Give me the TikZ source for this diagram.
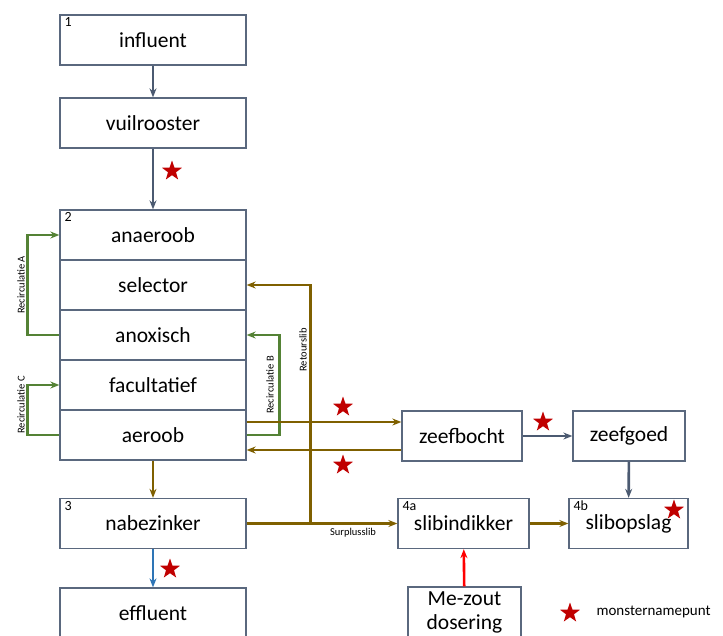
\documentclass[tikz,border=0pt]{standalone}
\usepackage{fontspec}
\setmainfont{Carlito}
\usetikzlibrary{shapes.geometric,arrows.meta}
\definecolor{lijn}{HTML}{5A687E}
\definecolor{leisteen}{HTML}{4B5A71}
\definecolor{oker}{HTML}{7F6000}
\definecolor{gras}{HTML}{548235}
\definecolor{zee}{HTML}{2E75B6}
\definecolor{rood}{HTML}{C00000}

\begin{document}
\begin{tikzpicture}[x=1pt,y=-1pt,
    box/.style={draw=lijn, line width=1.3pt, minimum height=50pt, inner sep=0pt, align=center, font=\fontsize{21.5}{24}\selectfont},
    brede/.style={box, minimum width=186pt},
    nr/.style={label={[anchor=north west,inner xsep=5pt,inner ysep=3pt,font=\fontsize{14}{15}\selectfont]north west:#1}},
    pijl/.style={line width=2.6pt, -{Stealth[length=9pt,width=7pt]}},
    grijs/.style={pijl, leisteen},
    bruin/.style={pijl, oker},
    groen/.style={pijl, gras},
    klein/.style={font=\fontsize{10.5}{12}\selectfont},
    ster/.style={star, star points=5, star point ratio=2.5, fill=rood, minimum size=21pt, inner sep=0pt}]
    \useasboundingbox (0,0) rectangle (723,635);

    % linker kolom
    \node[brede, nr=1] (influent) at (153,40) {influent};
    \node[brede] (vuil) at (153,123) {vuilrooster};
    \node[brede, nr=2] (anaer) at (153,235) {anaeroob};
    \node[brede] (selector) at (153,285) {selector};
    \node[brede] (anox) at (153,335) {anoxisch};
    \node[brede] (facult) at (153,385) {facultatief};
    \node[brede] (aeroob) at (153,435) {aeroob};
    \node[brede, nr=3] (nabez) at (153,523.5) {nabezinker};
    \node[brede] (effluent) at (153,613) {effluent};

    % rechter deel
    \node[box, minimum width=120pt] (zeefbocht) at (462,436) {zeefbocht};
    \node[box, minimum width=112pt] (zeefgoed) at (629,436) {zeefgoed};
    \node[box, minimum width=131pt, nr=4a] (slibind) at (463.5,523.5) {slibindikker};
    \node[box, minimum width=119pt, nr=4b] (slibops) at (628.5,523.5) {slibopslag};
    \node[box, minimum width=113pt] (mezout) at (464.5,612) {Me-zout\\dosering};

    % hoofdstroom
    \draw[grijs] (influent) -- (vuil);
    \draw[grijs] (vuil) -- (anaer);
    \draw[bruin] (aeroob) -- (nabez);
    \draw[pijl, zee] (nabez) -- (effluent);
    \draw[grijs] (zeefbocht) -- (zeefgoed);
    \draw[grijs] (zeefgoed) -- (slibops);
    \draw[bruin] (slibind) -- (slibops);
    \draw[pijl, red] (mezout) -- (slibind);

    % recirculaties
    \draw[groen] (anox.west) -- ++(-32,0) |- (anaer.west);
    \draw[groen] (aeroob.west) -- ++(-32,0) |- (facult.west);
    \draw[groen] (aeroob.east) -- ++(33,0) |- (anox.east);
    \node[klein, rotate=90] (recA) at (21,285) {Recirculatie A};
    \node[klein, rotate=90] (recC) at (21,405) {Recirculatie C};
    \node[klein, rotate=90] (recB) at (270,385) {Recirculatie B};

    % slibstromen
    \coordinate (heen) at ([yshift=13pt]aeroob.east);
    \coordinate (terug) at ([yshift=-14pt]zeefbocht.west);
    \coordinate (splits) at ([xshift=64pt]nabez.east);
    \draw[bruin] (heen) -- (heen -| zeefbocht.west);
    \draw[bruin] (terug) -- (terug -| aeroob.east);
    \draw[bruin] (nabez.east) -- (slibind.west);
    \draw[bruin] (splits) |- (selector.east);
    \node[klein, rotate=90] (retour) at (303,350) {Retourslib};
    \node[klein] (surplus) at (353,533) {Surplusslib};

    % monsternamepunten
    \node[ster] (m1) at (172,171) {};
    \node[ster] (m2) at (343,407) {};
    \node[ster] (m3) at (343,465) {};
    \node[ster] (m4) at (543,422) {};
    \node[ster] (m5) at (674,510) {};
    \node[ster] (m6) at (170,569) {};
    \node[ster] (leg) at (570,613) {};
    \node[anchor=west, font=\fontsize{15}{17}\selectfont] (legtekst) at (593,612) {monsternamepunt};
\end{tikzpicture}
\end{document}
